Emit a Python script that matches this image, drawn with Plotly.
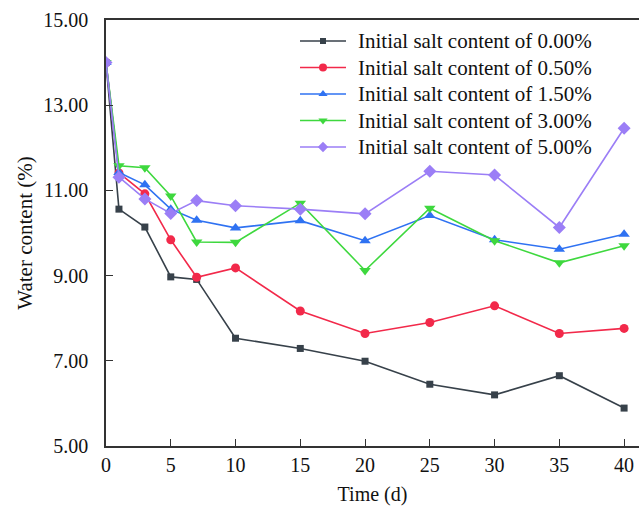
import plotly.graph_objects as go

# Drying time (days)
time_d = [0, 1, 3, 5, 7, 10, 15, 20, 25, 30, 35, 40]

# Water content (%) for each initial salt content
wc_000 = [14.00, 10.56, 10.14, 8.97, 8.91, 7.53, 7.29, 6.99, 6.45, 6.20, 6.65, 5.89]
wc_050 = [14.00, 11.41, 10.92, 9.84, 8.96, 9.18, 8.17, 7.64, 7.90, 8.29, 7.64, 7.76]
wc_150 = [14.00, 11.42, 11.13, 10.56, 10.30, 10.12, 10.29, 9.82, 10.41, 9.84, 9.62, 9.97]
wc_300 = [14.00, 11.58, 11.53, 10.87, 9.79, 9.78, 10.70, 9.12, 10.58, 9.82, 9.30, 9.70]
wc_500 = [14.00, 11.31, 10.80, 10.46, 10.76, 10.64, 10.56, 10.45, 11.45, 11.36, 10.13, 12.46]

series_names = [
    "Initial salt content of 0.00%",
    "Initial salt content of 0.50%",
    "Initial salt content of 1.50%",
    "Initial salt content of 3.00%",
    "Initial salt content of 5.00%",
]
series_values = [wc_000, wc_050, wc_150, wc_300, wc_500]
colors = ["#37414a", "#f2294a", "#2f72f2", "#3ed83e", "#9b7ef6"]
symbols = ["square", "circle", "triangle-up", "triangle-down", "diamond"]
sizes = [7, 9, 10, 10, 10]
legend_sizes = [6, 8, 8, 8, 8]

y_ticks = [5, 7, 9, 11, 13, 15]
y_tick_text = ["5.00", "7.00", "9.00", "11.00", "13.00", "15.00"]
x_ticks = [0, 5, 10, 15, 20, 25, 30, 35, 40]

FONT = "Liberation Serif"
TXT = "#111111"

# Plot-area geometry in pixels (used for the overlay legend axis)
PX_L, PX_R, PX_T, PX_B = 106, 639, 20, 446
LEG_X0, LEG_X1, LEG_TXT = 300, 346, 356
LEG_Y0, LEG_DY = 41, 26.5

fig = go.Figure()
for i, (name, vals) in enumerate(zip(series_names, series_values)):
    fig.add_trace(go.Scatter(
        x=time_d, y=vals, name=name, mode="lines+markers", showlegend=False,
        line=dict(color=colors[i], width=1.6),
        marker=dict(symbol=symbols[i], size=sizes[i], color=colors[i]),
    ))

# Legend drawn on a pixel-scaled overlay axis
annotations = []
for i, name in enumerate(series_names):
    yy = LEG_Y0 + i * LEG_DY
    fig.add_trace(go.Scatter(
        x=[LEG_X0, LEG_X1], y=[yy, yy], mode="lines", xaxis="x2", yaxis="y2",
        showlegend=False, hoverinfo="skip",
        line=dict(color=colors[i], width=1.6),
    ))
    fig.add_trace(go.Scatter(
        x=[(LEG_X0 + LEG_X1) / 2], y=[yy], mode="markers", xaxis="x2", yaxis="y2",
        showlegend=False, hoverinfo="skip",
        marker=dict(symbol=symbols[i], size=legend_sizes[i], color=colors[i]),
    ))
    annotations.append(dict(
        x=LEG_TXT, y=yy, xref="x2", yref="y2", text=name, showarrow=False,
        xanchor="left", yanchor="middle", font=dict(family=FONT, size=21, color=TXT),
    ))

fig.update_layout(
    width=639, height=513,
    margin=dict(l=PX_L, r=639 - PX_R, t=PX_T, b=513 - PX_B),
    paper_bgcolor="white", plot_bgcolor="white",
    font=dict(family=FONT, size=20, color=TXT),
    showlegend=False,
    annotations=annotations,
    xaxis=dict(
        range=[0, 41.15], tickvals=x_ticks, ticks="inside", ticklen=7,
        tickcolor="#333333", showline=True, linecolor="#333333", linewidth=1.5,
        mirror=True, showgrid=False, zeroline=False,
        tickfont=dict(family=FONT, size=20),
        title=dict(text="Time (d)", font=dict(family=FONT, size=20), standoff=12),
    ),
    yaxis=dict(
        range=[5, 15], tickvals=y_ticks, ticktext=y_tick_text, ticks="inside",
        ticklen=7, tickcolor="#333333", showline=True, linecolor="#333333",
        linewidth=1.5, mirror=False, showgrid=False, zeroline=False,
        tickfont=dict(family=FONT, size=20), ticklabelstandoff=12,
        title=dict(text="Water content (%)", font=dict(family=FONT, size=21), standoff=5),
    ),
    xaxis2=dict(
        overlaying="x", range=[PX_L, PX_R], visible=False, fixedrange=True,
    ),
    yaxis2=dict(
        overlaying="y", range=[PX_B, PX_T], visible=False, fixedrange=True,
    ),
)

fig.write_html("out.html")
